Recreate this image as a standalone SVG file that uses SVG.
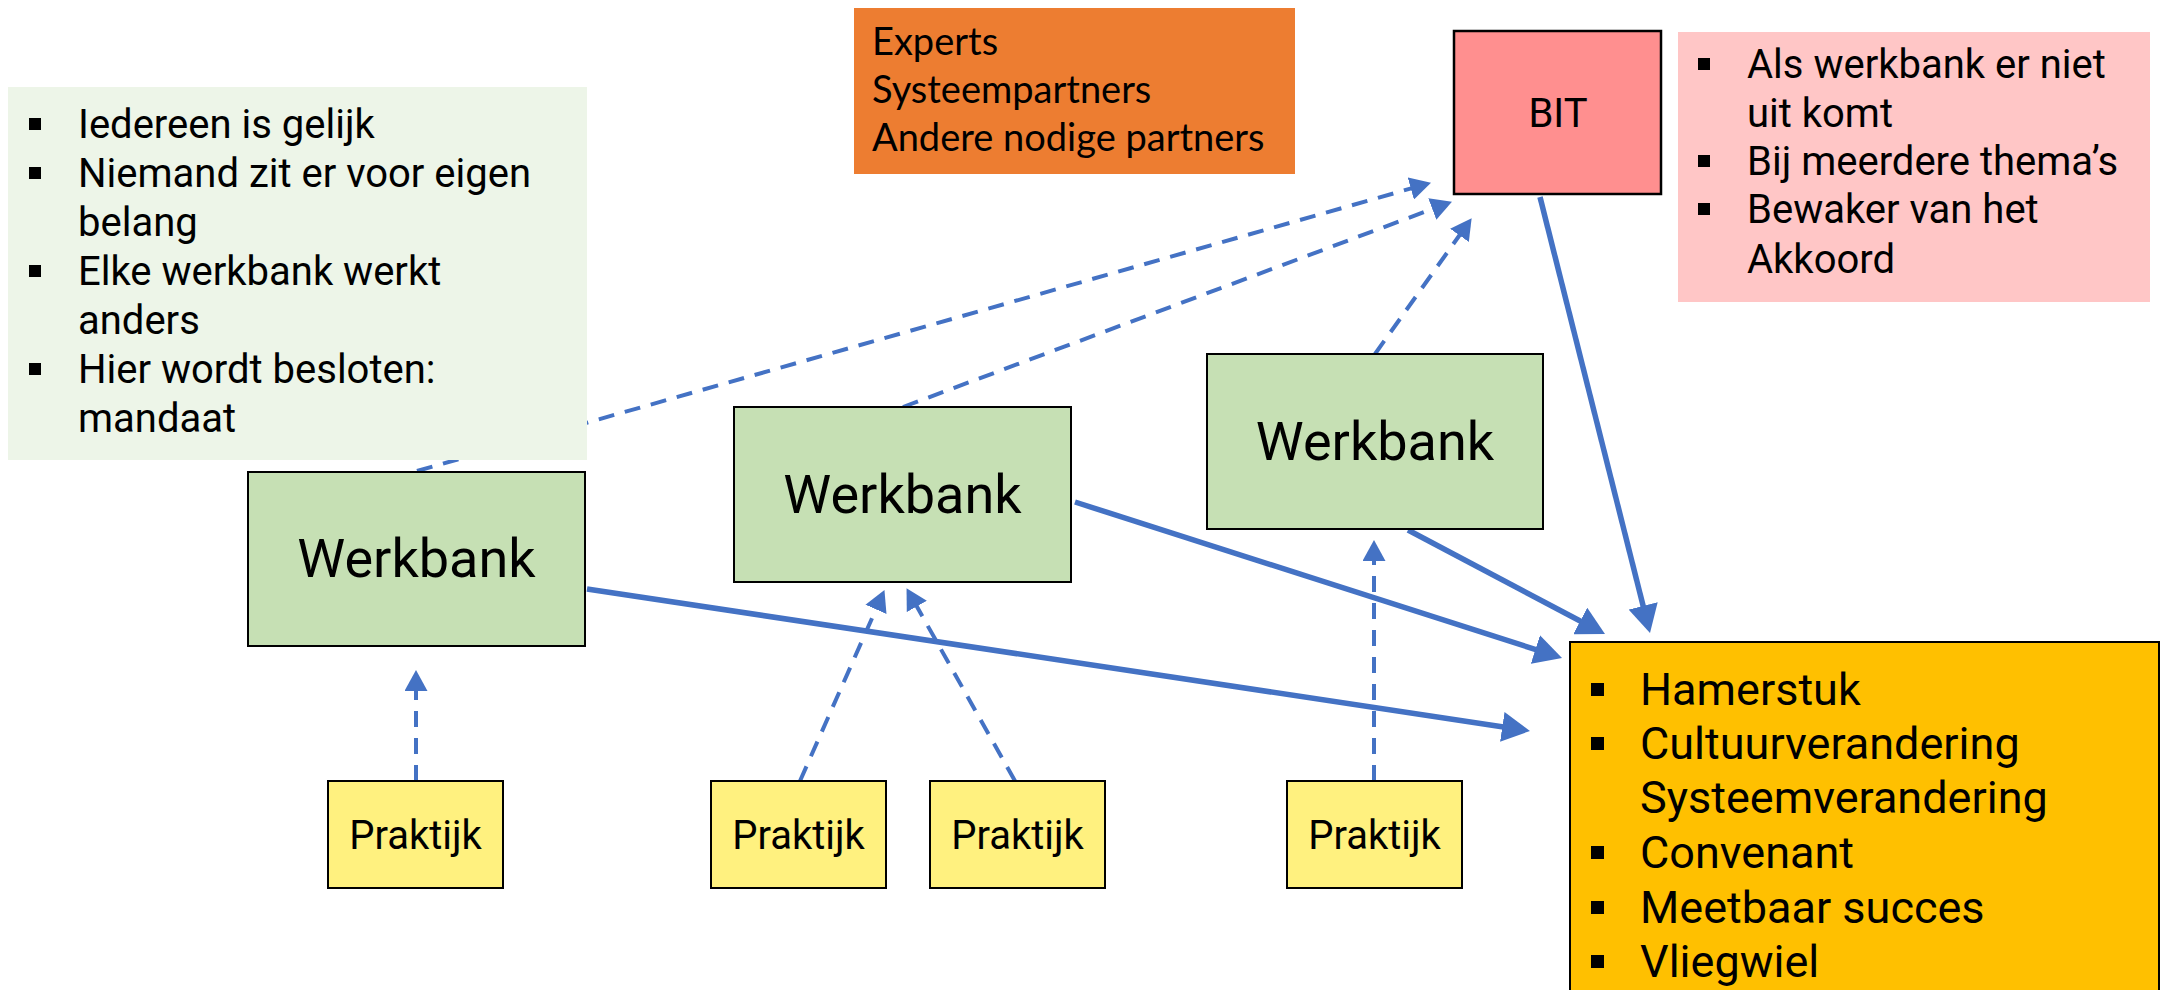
<svg xmlns="http://www.w3.org/2000/svg" width="2161" height="990" viewBox="0 0 2161 990">
<style>
.t{font-family:Roboto,"Liberation Sans",sans-serif;fill:#000}
.c{font-family:Lato,"Liberation Sans",sans-serif;fill:#000;font-size:38px}
.wb{fill:#C6E0B4;stroke:#000;stroke-width:2}
.pr{fill:#FFF17F;stroke:#000;stroke-width:2}
.solid{stroke:#4472C4;stroke-width:5.5;fill:none;marker-end:url(#ah)}
.dash{stroke:#4472C4;stroke-width:4;fill:none;stroke-dasharray:16 11;marker-end:url(#ahs)}
.bl{fill:#000}
</style>
<defs>
<marker id="ah" markerUnits="userSpaceOnUse" markerWidth="28" markerHeight="30" refX="8" refY="15" orient="auto">
<path d="M0,0 L28,15 L0,30 Z" fill="#4472C4"/>
</marker>
<marker id="ahs" markerUnits="userSpaceOnUse" markerWidth="21" markerHeight="23" refX="8" refY="11.5" orient="auto">
<path d="M0,0 L21,11.5 L0,23 Z" fill="#4472C4"/>
</marker>
</defs>
<rect width="2161" height="990" fill="#fff"/>
<g id="connectors">
<line class="solid" x1="587" y1="589" x2="1510.2" y2="728"/>
<line class="solid" x1="1075" y1="502" x2="1543" y2="651.9"/>
<line class="solid" x1="1408" y1="530" x2="1587.3" y2="624.7"/>
<line class="solid" x1="1540" y1="197" x2="1645.1" y2="613.6"/>
<line class="dash" x1="417" y1="471" x2="1418.5" y2="186.3"/>
<line class="dash" x1="903" y1="407" x2="1439.8" y2="206.2"/>
<line class="dash" x1="1375" y1="354" x2="1464.1" y2="228.8"/>
<line class="dash" x1="416" y1="781" x2="416" y2="683"/>
<line class="dash" x1="800" y1="781" x2="879.2" y2="602"/>
<line class="dash" x1="1015" y1="781" x2="912.9" y2="599.5"/>
<line class="dash" x1="1374" y1="781" x2="1374" y2="553"/>
</g>
<g id="note-left">
<rect x="8" y="87" width="579" height="373" fill="#EDF5E8"/>
<g class="t" font-size="40">
<rect class="bl" x="29" y="118" width="12" height="12"/>
<text x="78" y="138">Iedereen is gelijk</text>
<rect class="bl" x="29" y="167" width="12" height="12"/>
<text x="78" y="187">Niemand zit er voor eigen</text>
<text x="78" y="236">belang</text>
<rect class="bl" x="29" y="265" width="12" height="12"/>
<text x="78" y="285">Elke werkbank werkt</text>
<text x="78" y="334">anders</text>
<rect class="bl" x="29" y="363" width="12" height="12"/>
<text x="78" y="383">Hier wordt besloten:</text>
<text x="78" y="432">mandaat</text>
</g>
</g>
<g id="experts">
<rect x="854" y="8" width="441" height="166" fill="#ED7D31"/>
<text class="c" x="872" y="55">Experts</text>
<text class="c" x="872" y="103">Systeempartners</text>
<text class="c" x="872" y="151">Andere nodige partners</text>
</g>
<g id="bit">
<rect x="1454" y="31" width="207" height="163" fill="#FF8F8F" stroke="#000" stroke-width="2.5"/>
<text class="t" x="1558" y="127" font-size="40" text-anchor="middle">BIT</text>
</g>
<g id="note-right">
<rect x="1678" y="32" width="472" height="270" fill="#FFC6C6"/>
<g class="t" font-size="40">
<rect class="bl" x="1698" y="58" width="12" height="12"/>
<text x="1747" y="78">Als werkbank er niet</text>
<text x="1747" y="127">uit komt</text>
<rect class="bl" x="1698" y="155" width="12" height="12"/>
<text x="1747" y="175">Bij meerdere thema’s</text>
<rect class="bl" x="1698" y="203" width="12" height="12"/>
<text x="1747" y="223">Bewaker van het</text>
<text x="1747" y="273">Akkoord</text>
</g>
</g>
<g id="werkbank1">
<rect class="wb" x="248" y="472" width="337" height="174"/>
<text class="t" x="416.5" y="577" font-size="54" text-anchor="middle">Werkbank</text>
</g>
<g id="werkbank2">
<rect class="wb" x="734" y="407" width="337" height="175"/>
<text class="t" x="902.5" y="513" font-size="54" text-anchor="middle">Werkbank</text>
</g>
<g id="werkbank3">
<rect class="wb" x="1207" y="354" width="336" height="175"/>
<text class="t" x="1375" y="460" font-size="54" text-anchor="middle">Werkbank</text>
</g>
<g id="praktijk1">
<rect class="pr" x="328" y="781" width="175" height="107"/>
<text class="t" x="415.5" y="849" font-size="40" text-anchor="middle">Praktijk</text>
</g>
<g id="praktijk2">
<rect class="pr" x="711" y="781" width="175" height="107"/>
<text class="t" x="798.5" y="849" font-size="40" text-anchor="middle">Praktijk</text>
</g>
<g id="praktijk3">
<rect class="pr" x="930" y="781" width="175" height="107"/>
<text class="t" x="1017.5" y="849" font-size="40" text-anchor="middle">Praktijk</text>
</g>
<g id="praktijk4">
<rect class="pr" x="1287" y="781" width="175" height="107"/>
<text class="t" x="1374.5" y="849" font-size="40" text-anchor="middle">Praktijk</text>
</g>
<g id="result">
<rect x="1570" y="642" width="589" height="360" fill="#FFC000" stroke="#000" stroke-width="2"/>
<g class="t" font-size="45">
<rect class="bl" x="1591" y="683" width="13" height="13"/>
<text x="1640" y="705">Hamerstuk</text>
<rect class="bl" x="1591" y="737" width="13" height="13"/>
<text x="1640" y="759">Cultuurverandering</text>
<text x="1640" y="813">Systeemverandering</text>
<rect class="bl" x="1591" y="846" width="13" height="13"/>
<text x="1640" y="868">Convenant</text>
<rect class="bl" x="1591" y="901" width="13" height="13"/>
<text x="1640" y="923">Meetbaar succes</text>
<rect class="bl" x="1591" y="955" width="13" height="13"/>
<text x="1640" y="977">Vliegwiel</text>
</g>
</g>
</svg>
